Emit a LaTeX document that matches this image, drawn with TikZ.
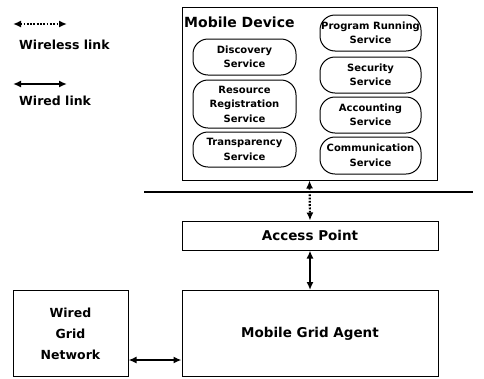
\documentclass[tikz,border=0pt]{standalone}
\usepackage{fontspec}
\setmainfont{DejaVu Sans}
\usetikzlibrary{arrows.meta,calc}
\begin{document}
\begin{tikzpicture}[x=1pt,y=1pt,
  box/.style={draw,line width=1pt,inner sep=0pt,font=\bfseries},
  svc/.style={draw,line width=1pt,rounded corners=15pt,inner sep=0pt,align=center,font=\bfseries\fontsize{10}{14.5}\selectfont},
  wired/.style={line width=2pt,{Latex[length=8pt,width=7pt]}-{Latex[length=8pt,width=7pt]}},
  wireless/.style={line width=2.2pt,dash pattern=on 1.8pt off 1.5pt,{Latex[length=8pt,width=7pt]}-{Latex[length=8pt,width=7pt]}},
  lbl/.style={font=\bfseries\fontsize{12.5}{14}\selectfont,inner sep=0pt,anchor=west}
]
\useasboundingbox (0,0) rectangle (484,-378);
% legend
\coordinate (l1a) at (13,-24);
\coordinate (l1b) at (67,-24);
\draw[wireless] (l1a) -- (l1b);
\node[lbl] (t1) at (19,-45) {Wireless link};
\coordinate (l2a) at (13,-84);
\coordinate (l2b) at (67,-84);
\draw[wired] (l2a) -- (l2b);
\node[lbl] (t2) at (19,-101) {Wired link};
% mobile device
\node[box,minimum width=255pt,minimum height=173pt] (md) at (309.5,-93.5) {};
\node[lbl,font=\bfseries\fontsize{14}{16}\selectfont] (mdt) at (184,-22) {Mobile Device};
\node[svc,minimum width=103pt,minimum height=36pt] (disc) at (244.5,-57) {Discovery\\Service};
\node[svc,minimum width=103pt,minimum height=48pt] (res) at (244.5,-104) {Resource\\Registration\\Service};
\node[svc,minimum width=103pt,minimum height=35pt] (trans) at (244.5,-149.5) {Transparency\\Service};
\node[svc,minimum width=101pt,minimum height=36pt] (prog) at (370.5,-33) {Program Running\\Service};
\node[svc,minimum width=101pt,minimum height=36pt] (sec) at (370.5,-75) {Security\\Service};
\node[svc,minimum width=101pt,minimum height=36pt] (acc) at (370.5,-115) {Accounting\\Service};
\node[svc,minimum width=101pt,minimum height=37pt] (comm) at (370.5,-155.5) {Communication\\Service};
% horizontal line
\coordinate (h1) at (144,-192);
\coordinate (h2) at (473,-192);
\draw[line width=1.3pt] (h1) -- (h2);
% access point and agent
\node[box,minimum width=256pt,minimum height=29pt,font=\bfseries\fontsize{13.5}{15}\selectfont] (ap) at (310,-235.5) {Access Point};
\node[box,minimum width=256pt,minimum height=86pt,font=\bfseries\fontsize{13.5}{15}\selectfont] (mga) at (310,-333.5) {Mobile Grid Agent};
\node[box,minimum width=115pt,minimum height=86pt,align=center,font=\bfseries\fontsize{12.5}{21}\selectfont] (wgn) at (70.5,-333.5) {Wired\\Grid\\Network};
% connectors
\draw[wireless] (md.south) -- (ap.north);
\draw[wired] (ap.south) -- (mga.north);
\coordinate (yl) at (0,-360);
\draw[wired] (wgn.east |- yl) -- (mga.west |- yl);
\end{tikzpicture}
\end{document}
